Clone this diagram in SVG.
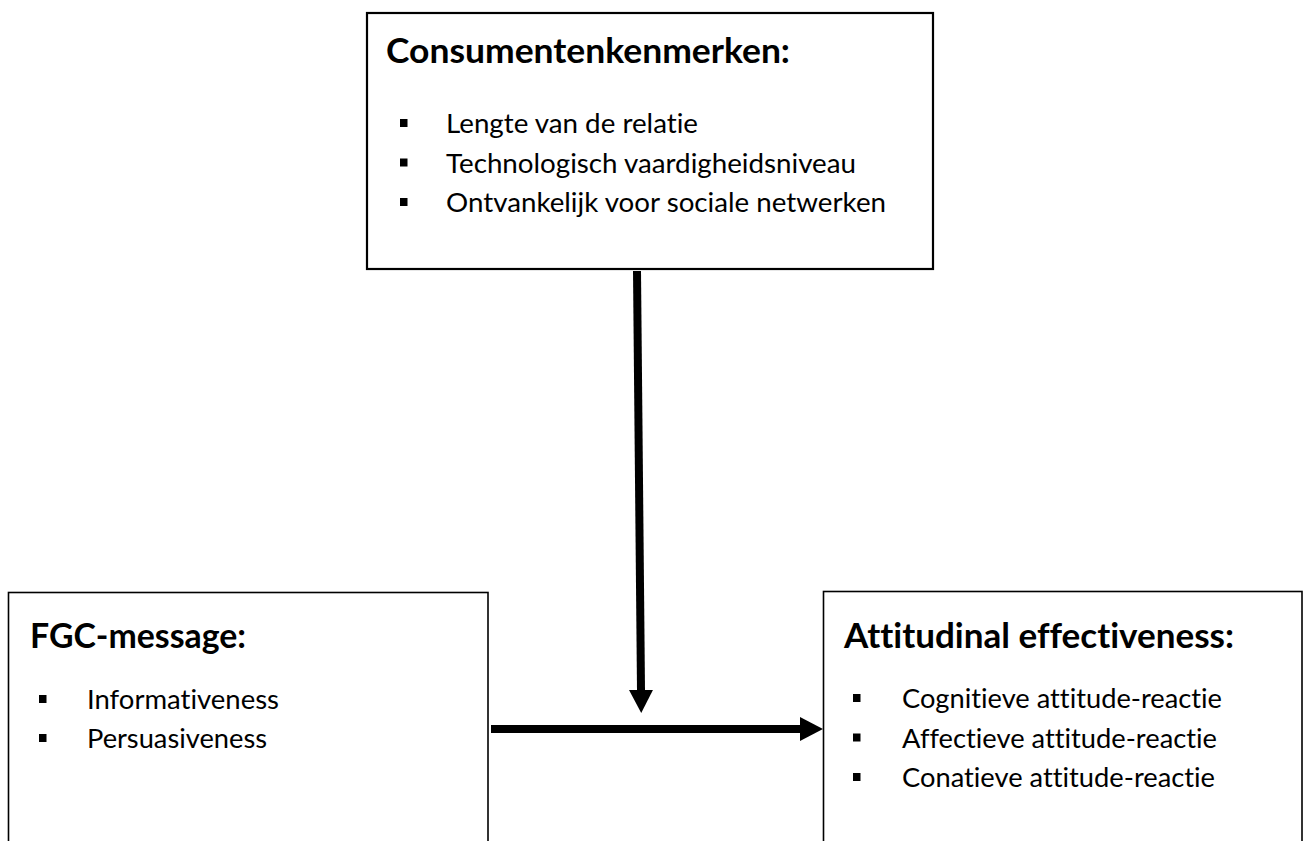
<svg xmlns="http://www.w3.org/2000/svg" width="1304" height="841" viewBox="0 0 1304 841">
  <style>
    .box { fill: #ffffff; stroke: #000000; }
    .title { font-family: Lato, "Open Sans", "Liberation Sans", sans-serif; font-weight: bold; font-size: 34.5px; fill: #000000; font-variant-ligatures: none; }
    .item { font-family: Lato, "Open Sans", "Liberation Sans", sans-serif; font-size: 27.5px; fill: #000000; font-variant-ligatures: none; }
    .bullet { fill: #000000; }
    .conn { fill: none; stroke: #000000; stroke-width: 8; }
  </style>
  <defs>
    <marker id="head" markerUnits="userSpaceOnUse" viewBox="0 0 23 24" refX="0" refY="12" markerWidth="23" markerHeight="24" orient="auto">
      <path d="M0,0 L23,12 L0,24 Z" fill="#000000"/>
    </marker>
  </defs>
  <rect width="1304" height="841" fill="#ffffff"/>

  <!-- Top: consumer characteristics -->
  <g id="consumentenkenmerken">
    <rect class="box" x="367" y="13" width="566" height="256" stroke-width="2.2"/>
    <text class="title" x="386" y="63" textLength="404" lengthAdjust="spacingAndGlyphs">Consumentenkenmerken:</text>
    <rect class="bullet" x="400" y="119" width="7.5" height="8"/>
    <text class="item" x="446" y="133" textLength="252" lengthAdjust="spacingAndGlyphs">Lengte van de relatie</text>
    <rect class="bullet" x="400" y="158.5" width="7.5" height="8"/>
    <text class="item" x="446" y="172.5" textLength="410" lengthAdjust="spacingAndGlyphs">Technologisch vaardigheidsniveau</text>
    <rect class="bullet" x="400" y="198" width="7.5" height="8"/>
    <text class="item" x="446" y="212" textLength="440" lengthAdjust="spacingAndGlyphs">Ontvankelijk voor sociale netwerken</text>
  </g>

  <!-- Left: FGC message -->
  <g id="fgc-message">
    <rect class="box" x="8.5" y="592.5" width="479.5" height="270" stroke-width="1.6"/>
    <text class="title" x="30" y="648" textLength="216" lengthAdjust="spacingAndGlyphs">FGC-message:</text>
    <rect class="bullet" x="39" y="695" width="7.5" height="8"/>
    <text class="item" x="87" y="709" textLength="192" lengthAdjust="spacingAndGlyphs">Informativeness</text>
    <rect class="bullet" x="39" y="734" width="7.5" height="8"/>
    <text class="item" x="87" y="748" textLength="180" lengthAdjust="spacingAndGlyphs">Persuasiveness</text>
  </g>

  <!-- Right: attitudinal effectiveness -->
  <g id="attitudinal-effectiveness">
    <rect class="box" x="823.5" y="591.5" width="478.5" height="270" stroke-width="1.6"/>
    <text class="title" x="844" y="648" textLength="390" lengthAdjust="spacingAndGlyphs">Attitudinal effectiveness:</text>
    <rect class="bullet" x="853" y="694" width="7.5" height="8"/>
    <text class="item" x="902" y="708" textLength="320" lengthAdjust="spacingAndGlyphs">Cognitieve attitude-reactie</text>
    <rect class="bullet" x="853" y="733.5" width="7.5" height="8"/>
    <text class="item" x="902" y="747.5" textLength="315" lengthAdjust="spacingAndGlyphs">Affectieve attitude-reactie</text>
    <rect class="bullet" x="853" y="773" width="7.5" height="8"/>
    <text class="item" x="902" y="787" textLength="313" lengthAdjust="spacingAndGlyphs">Conatieve attitude-reactie</text>
  </g>

  <!-- Connectors -->
  <g id="connectors">
    <line class="conn" x1="637" y1="271" x2="641" y2="690" marker-end="url(#head)"/>
    <line class="conn" x1="491" y1="729" x2="800" y2="729" marker-end="url(#head)"/>
  </g>
</svg>
